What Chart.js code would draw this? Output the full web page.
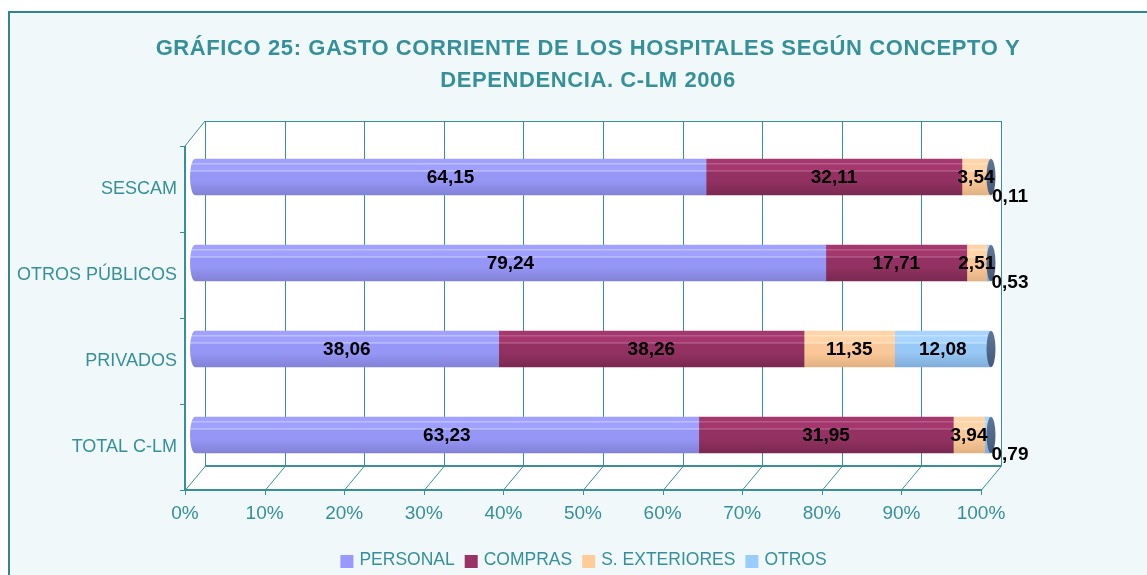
<!DOCTYPE html>
<html>
<head>
<meta charset="utf-8">
<script src="https://cdn.jsdelivr.net/npm/chart.js@4.4.1/dist/chart.umd.min.js"></script>
<style>
html,body{margin:0;padding:0;background:#fff;overflow:hidden}
canvas{display:block}
</style>
</head>
<body>
<canvas id="c" width="1147" height="575"></canvas>
<script>
// ---------- data ----------
const titleLines = ['GRÁFICO 25: GASTO CORRIENTE DE LOS HOSPITALES SEGÚN CONCEPTO Y', 'DEPENDENCIA. C-LM 2006'];
const categories = ['SESCAM', 'OTROS PÚBLICOS', 'PRIVADOS', 'TOTAL C-LM'];
const seriesNames = ['PERSONAL', 'COMPRAS', 'S. EXTERIORES', 'OTROS'];
const personal    = [64.15, 79.24, 38.06, 63.23];
const compras     = [32.11, 17.71, 38.26, 31.95];
const sExteriores = [3.54, 2.51, 11.35, 3.94];
const otros       = [0.11, 0.53, 12.08, 0.79];
const xTickLabels = ['0%','10%','20%','30%','40%','50%','60%','70%','80%','90%','100%'];

// ---------- styles ----------
const FONT = "'Liberation Sans', Arial, sans-serif";
const TEAL_TEXT = '#35909a';
const TEAL_LINE = '#3a8e96';
const BG = '#f0f8fa';
const shades = [
  ['#a0a0ff', '#c4c4ff', '#9696f6', '#8282d8'],
  ['#a4386e', '#b8628c', '#933262', '#7a2852'],
  ['#ffd4a8', '#ffe4c8', '#fac898', '#e2b182'],
  ['#a8d4ff', '#c8e4ff', '#98c8f6', '#80acd8']
];
const legendColors = ['#9999ff', '#993366', '#ffcc99', '#99ccff'];
const BAR_T = 36, DX = 20, DY = 24, BX = 10, BY = -12;

const raw = [personal, compras, sExteriores, otros];
const totals = categories.map((_, i) => raw.reduce((s, a) => s + a[i], 0));
const shares = raw.map(a => a.map((v, i) => v / totals[i] * 100));

function gradFor(k, chart, idx) {
  const ys = chart.scales && chart.scales.y;
  if (!ys) return legendColors[k];
  const yc = ys.getPixelForValue(idx);
  if (!isFinite(yc)) return legendColors[k];
  const g = chart.ctx.createLinearGradient(0, yc - BAR_T / 2, 0, yc + BAR_T / 2);
  const s = shades[k];
  g.addColorStop(0, s[0]);
  g.addColorStop(0.10, s[0]);
  g.addColorStop(0.13, s[1]);
  g.addColorStop(0.17, s[0]);
  g.addColorStop(0.30, s[0]);
  g.addColorStop(0.33, s[1]);
  g.addColorStop(0.37, s[2]);
  g.addColorStop(0.6, s[2]);
  g.addColorStop(1, s[3]);
  return g;
}

const fmt = v => v.toFixed(2).replace('.', ',');

const decor = {
  id: 'decor',
  beforeDraw(chart) {
    const c = chart.ctx;
    c.save();
    c.fillStyle = '#ffffff';
    c.fillRect(0, 0, chart.width, chart.height);
    c.fillStyle = BG;
    c.fillRect(9, 12, chart.width, chart.height);
    c.strokeStyle = '#31868e';
    c.lineWidth = 2;
    c.strokeRect(9, 12, chart.width + 20, chart.height + 20);
    c.fillStyle = TEAL_TEXT;
    c.font = 'bold 22px ' + FONT;
    c.textAlign = 'center';
    c.textBaseline = 'middle';
    if ('letterSpacing' in c) c.letterSpacing = '0.6px';
    titleLines.forEach((t, i) => c.fillText(t, 588, 49 + i * 32));
    c.restore();
  },
  beforeDatasetsDraw(chart) {
    const c = chart.ctx, xs = chart.scales.x, ca = chart.chartArea;
    const L = ca.left, R = xs.getPixelForValue(100), T = ca.top, B = ca.bottom;
    c.save();
    c.fillStyle = '#ffffff';
    c.beginPath();
    c.moveTo(L, B); c.lineTo(L, T); c.lineTo(L + DX, T - DY - 1);
    c.lineTo(R + DX, T - DY - 1); c.lineTo(R + DX, B - DY); c.lineTo(R, B);
    c.closePath(); c.fill();
    c.strokeStyle = TEAL_LINE;
    c.lineWidth = 1;
    const vals = xs.ticks.map(t => t.value);
    c.beginPath();
    vals.forEach(v => {
      const x = Math.round(xs.getPixelForValue(v)) + 0.5;
      c.moveTo(x + DX, B - DY); c.lineTo(x + DX, T - DY - 1);
      c.moveTo(x, B); c.lineTo(x + DX, B - DY);
      c.moveTo(x, B); c.lineTo(x, B + 5);
    });
    c.moveTo(L + DX, T - DY - 0.5); c.lineTo(R + DX, T - DY - 0.5);
    c.moveTo(L, T); c.lineTo(L + DX, T - DY - 1);
    const n = categories.length;
    for (let i = 0; i <= n; i++) {
      const y = Math.round(T + (B - T) * i / n) + 0.5;
      c.moveTo(L - 5, y); c.lineTo(L, y);
    }
    c.stroke();
    c.lineWidth = 2;
    c.beginPath();
    c.moveTo(L, B); c.lineTo(R + 1, B);
    c.moveTo(L + DX, B - DY); c.lineTo(R + DX, B - DY);
    c.moveTo(L, T); c.lineTo(L, B);
    c.stroke();
    c.restore();
    c.save();
    c.translate(BX, BY);
  },
  afterDatasetsDraw(chart) {
    const c = chart.ctx;
    const metas = chart.data.datasets.map((_, k) => chart.getDatasetMeta(k));
    categories.forEach((_, i) => {
      const first = metas[0].data[i];
      const last = metas[metas.length - 1].data[i];
      c.save();
      c.fillStyle = gradFor(0, chart, i);
      c.beginPath();
      c.ellipse(first.base, first.y, 5, BAR_T / 2, 0, Math.PI / 2, Math.PI * 1.5);
      c.fill();
      c.restore();
      c.save();
      const g = c.createLinearGradient(0, last.y - BAR_T / 2, 0, last.y + BAR_T / 2);
      g.addColorStop(0, '#5d7898'); g.addColorStop(1, '#44597a');
      c.fillStyle = g;
      c.beginPath();
      c.ellipse(last.x, last.y, 4.5, BAR_T / 2, 0, 0, Math.PI * 2);
      c.fill();
      c.restore();
    });
    c.save();
    c.fillStyle = '#000000';
    c.font = 'bold 19px ' + FONT;
    c.textAlign = 'center';
    c.textBaseline = 'middle';
    metas.forEach((m, k) => {
      m.data.forEach((el, i) => {
        const v = raw[k][i];
        let x = (el.x + el.base) / 2, y = el.y + 1;
        if (v < 1) { x = el.x + 19; y = el.y + 20; }
        c.fillText(fmt(v), x, y);
      });
    });
    c.restore();
    c.restore();
  },
  afterDraw(chart) {
    const c = chart.ctx;
    c.save();
    c.font = '17.5px ' + FONT;
    c.textBaseline = 'middle';
    c.textAlign = 'left';
    const box = 13, gap = 6, sep = 10;
    const widths = seriesNames.map(s => c.measureText(s).width);
    const total = widths.reduce((a, w) => a + box + gap + w, 0) + sep * (seriesNames.length - 1);
    let x = 583.5 - total / 2;
    seriesNames.forEach((s, k) => {
      c.fillStyle = legendColors[k];
      c.fillRect(x, 555, box, box);
      x += box + gap;
      c.fillStyle = TEAL_TEXT;
      c.fillText(s, x, 560);
      x += widths[k] + sep;
    });
    c.restore();
  }
};

new Chart(document.getElementById('c'), {
  type: 'bar',
  data: {
    labels: categories,
    datasets: seriesNames.map((name, k) => ({
      label: name,
      data: shares[k],
      backgroundColor: ctx => gradFor(k, ctx.chart, ctx.dataIndex),
      borderWidth: 0,
      barThickness: BAR_T,
      clip: false
    }))
  },
  options: {
    indexAxis: 'y',
    responsive: false,
    animation: false,
    devicePixelRatio: 1,
    layout: { padding: { left: 0, top: 146, right: 166, bottom: 0 } },
    plugins: { legend: { display: false }, title: { display: false }, tooltip: { enabled: false } },
    scales: {
      x: {
        stacked: true, min: 0, max: 100,
        grid: { display: false, drawTicks: false },
        border: { display: false },
        ticks: {
          stepSize: 10, autoSkip: false, maxRotation: 0, padding: 12,
          color: TEAL_TEXT, font: { family: FONT, size: 19 },
          callback: (v, i) => xTickLabels[i]
        },
        afterFit: s => { s.height = 85; }
      },
      y: {
        stacked: true,
        grid: { display: false, drawTicks: false },
        border: { display: false },
        ticks: { padding: 8, color: TEAL_TEXT, font: { family: FONT, size: 18 } },
        afterFit: s => { s.width = 185; }
      }
    }
  },
  plugins: [decor]
});
</script>
</body>
</html>
